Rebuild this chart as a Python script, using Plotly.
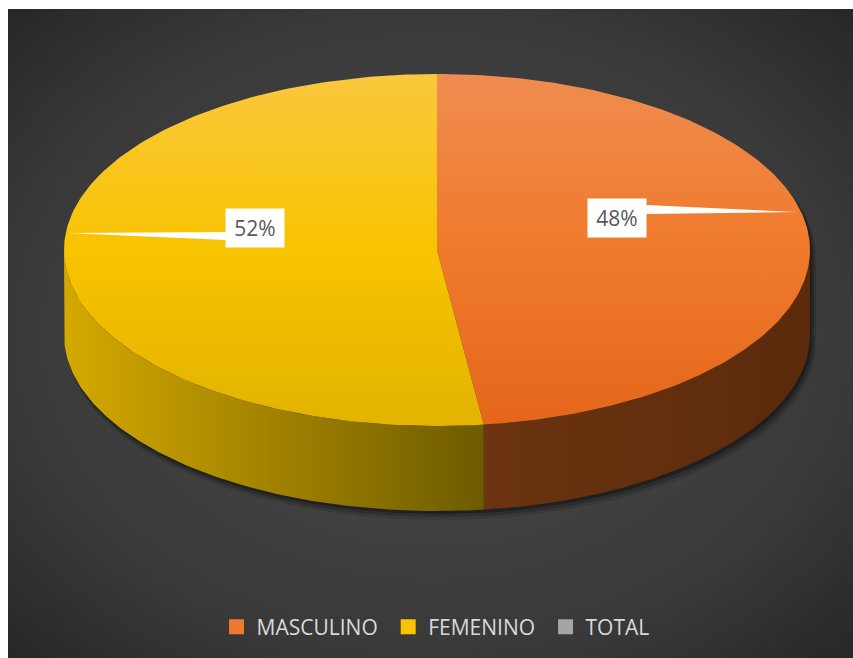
import numpy as np
import plotly.graph_objects as go

# ---------------- data ----------------
categories = ["MASCULINO", "FEMENINO", "TOTAL"]
values = [48, 52, 0]
legend_colors = ["#EE7A2E", "#F9C300", "#A5A5A5"]
top_colors = [("#E4661A", "#F07A2B", "#EF8C50"), ("#E2B300", "#F8C300", "#FAC83E")]  # bottom, mid, top
side_colors = [("#6C3411", "#5B2A0B"), ("#D4A900", "#6E5B00")]  # (left, right) of side

# ---------------- geometry (pixels) ----------------
W, H = 853, 658
BL, BT = 8, 9            # white frame at left / top
CX, CY = 437, 250
A, B = 373, 176
DEPTH = 85


def pt(theta, dy=0.0, ox=0.0, oy=0.0, grow=0.0):
    t = np.radians(theta)
    x = CX + ox + (A + grow) * np.sin(t)
    yp = CY + oy - (B + grow) * np.cos(t) + dy
    return x, H - yp


def arc(t0, t1, dy=0.0, n=120, **kw):
    ts = np.linspace(t0, t1, n)
    xs, ys = pt(ts, dy, **kw)
    return list(xs), list(ys)


fig = go.Figure()

# background with radial gradient (box enlarged so the gradient ellipse reaches the corners)
bcx, bcy = (BL + W) / 2, (0 + H - BT) / 2
hw, hh = (W - BL) / 2 * 1.414, (H - BT) / 2 * 1.414
fig.add_trace(go.Scatter(
    x=[bcx - hw, bcx + hw, bcx + hw, bcx - hw, bcx - hw],
    y=[bcy + hh, bcy + hh, bcy - hh, bcy - hh, bcy + hh], mode="lines",
    line=dict(width=0), fill="toself",
    fillgradient=dict(type="radial",
                      colorscale=[[0, "#4C4C4C"], [0.7, "#393939"], [1, "#272727"]]),
    hoverinfo="skip", showlegend=False))

# shadow under the pie
for ox, oy, g, alpha in [(4, 7, 2, 0.12), (3, 5, 1, 0.18), (2, 3, 0, 0.28)]:
    x1, y1 = arc(-90, 90, 0, ox=ox, oy=oy, grow=g)
    x2, y2 = arc(90, 270, DEPTH, ox=ox, oy=oy, grow=g)
    fig.add_trace(go.Scatter(x=x1 + x2, y=y1 + y2, mode="lines", line=dict(width=0),
                             fill="toself", fillcolor=f"rgba(0,0,0,{alpha})",
                             hoverinfo="skip", showlegend=False))

total = sum(values)
ends = np.cumsum(values) / total * 360.0
starts = np.concatenate([[0.0], ends[:-1]])

# side faces (front half only, 90..270 deg clockwise from top)
for i, v in enumerate(values):
    if v <= 0 or i >= len(side_colors):
        continue
    t0, t1 = max(starts[i], 90.0), min(ends[i], 270.0)
    if t0 >= t1:
        continue
    xa, ya = arc(t0, t1, 0)
    xb, yb = arc(t1, t0, DEPTH)
    xs = xa + xb + [xa[0]]
    ys = ya + yb + [ya[0]]
    left, right = side_colors[i]
    fig.add_trace(go.Scatter(
        x=xs, y=ys, mode="lines", line=dict(width=0), fill="toself",
        fillgradient=dict(type="horizontal", start=min(xs), stop=max(xs),
                          colorscale=[[0, left], [1, right]]),
        hoverinfo="skip", showlegend=False))

# top faces
for i, v in enumerate(values):
    if v <= 0 or i >= len(top_colors):
        continue
    xa, ya = arc(starts[i], ends[i], 0, n=200)
    xs = [CX] + xa + [CX]
    ys = [H - CY] + ya + [H - CY]
    bot, mid, top = top_colors[i]
    fig.add_trace(go.Scatter(
        x=xs, y=ys, mode="lines", line=dict(width=0), fill="toself",
        fillgradient=dict(type="vertical", start=H - (CY + B), stop=H - (CY - B),
                          colorscale=[[0, bot], [0.5, mid], [1, top]]),
        hoverinfo="skip", showlegend=False))

# data labels with leader wedges
label_boxes = [(617, 218), (255, 228)]          # box centres (px)
leader_tips = [(797, 212), (68, 233)]
leader_bases = [((646, 205), (646, 214)), ((226, 232), (226, 240))]
for i, v in enumerate(values[:2]):
    (bx1, by1), (bx2, by2) = leader_bases[i]
    tx, ty = leader_tips[i]
    fig.add_trace(go.Scatter(
        x=[bx1, tx, bx2, bx1], y=[H - by1, H - ty, H - by2, H - by1],
        mode="lines", line=dict(width=0, color="white"), fill="toself",
        fillcolor="white", hoverinfo="skip", showlegend=False))
    lx, ly = label_boxes[i]
    fig.add_annotation(x=lx, y=H - ly, xref="x", yref="y", showarrow=False,
                       text=f"{round(v / total * 100)}%", width=58, height=38,
                       bgcolor="white", borderpad=0,
                       font=dict(family="Open Sans", size=21, color="#595959"))

# legend entries
pads = ["\u00a0", "\u00a0", ""]
for name, col, p in zip(categories, legend_colors, pads):
    fig.add_trace(go.Scatter(x=[None], y=[None], mode="markers", name=name + p,
                             marker=dict(symbol="square", size=15, color=col)))

fig.update_layout(
    width=W, height=H, autosize=False,
    margin=dict(l=0, r=0, t=0, b=0),
    paper_bgcolor="white", plot_bgcolor="#2E2E2E",
    xaxis=dict(range=[BL, W], domain=[BL / W, 1], visible=False, fixedrange=True),
    yaxis=dict(range=[0, H - BT], domain=[0, (H - BT) / H], visible=False, fixedrange=True),
    showlegend=True,
    legend=dict(orientation="h", x=0.5106, xanchor="center", y=(H - 627) / H,
                yanchor="middle", bgcolor="rgba(0,0,0,0)",
                font=dict(family="Open Sans", size=21, color="#D9D9D9"),
                itemclick=False, itemdoubleclick=False),
    font=dict(family="Open Sans"),
)

fig.write_html("out.html")
